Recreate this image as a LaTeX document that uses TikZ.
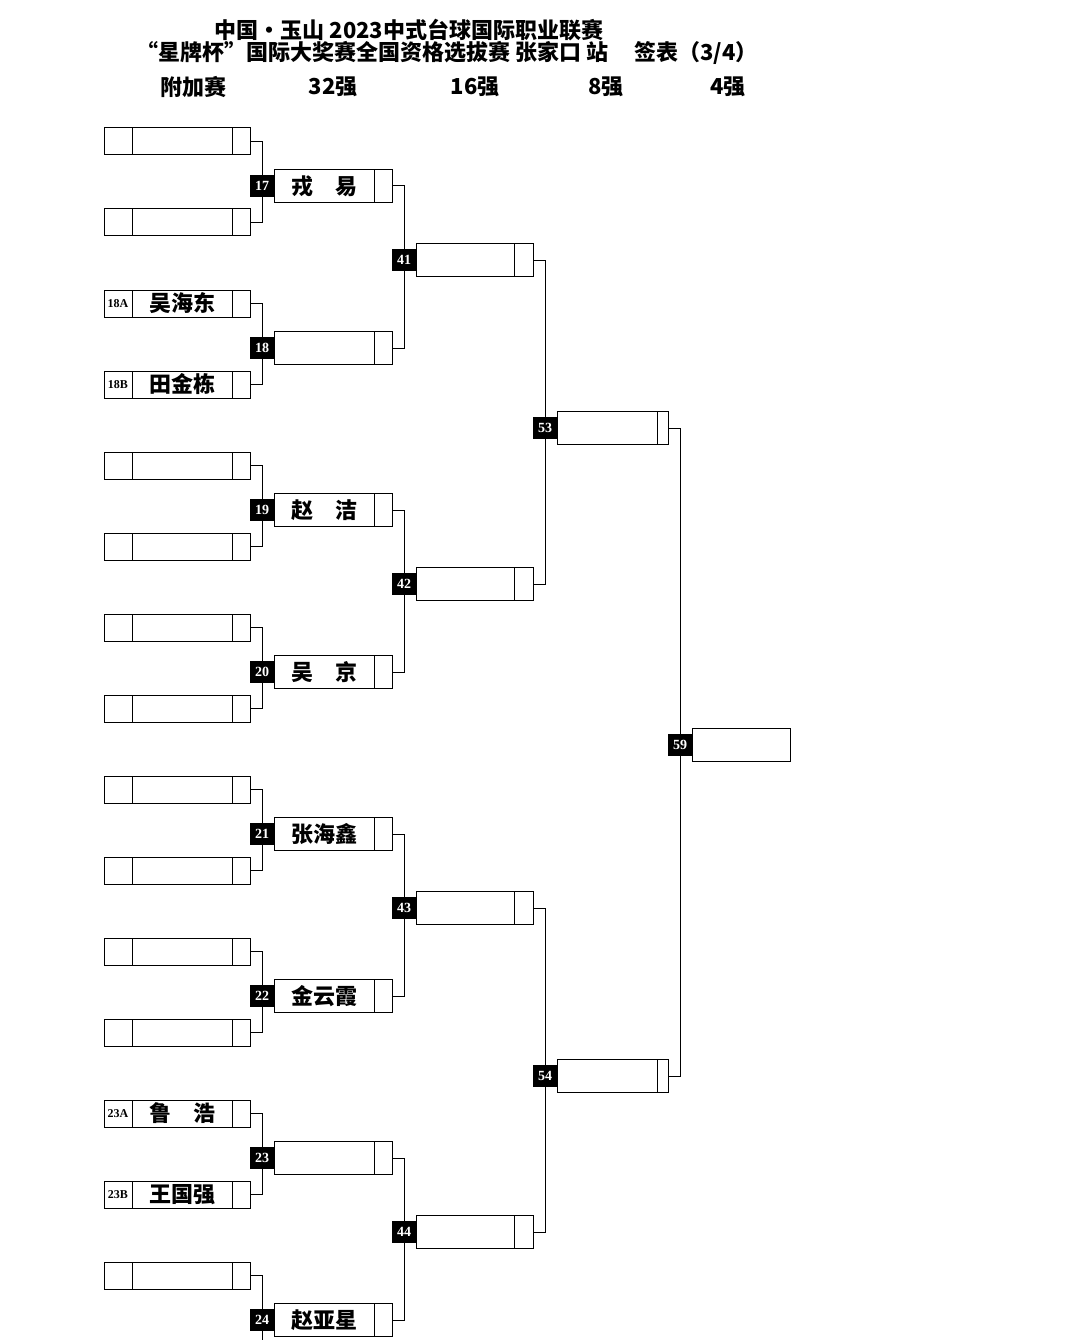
\documentclass[tikz,border=0pt]{standalone}
\usepackage{fontspec}
\setmainfont{Liberation Serif}
\newfontfamily\cjk{Noto Sans CJK SC}
\usetikzlibrary{positioning}

\begin{document}
\begin{tikzpicture}[
  x=1pt, y=-1pt, line width=1pt,
  cell/.style = {draw, inner sep=0pt, outer sep=0pt, minimum height=27pt, anchor=west},
  tagcell/.style = {cell, minimum width=28pt, font=\fontsize{12}{12}\bfseries\selectfont},
  namecell/.style = {cell, minimum width=100pt, font=\cjk\bfseries\fontsize{22}{22}\selectfont},
  scorecell/.style = {cell, minimum width=18pt},
  matchno/.style = {fill=black, text=white, inner sep=0pt, outer sep=0pt, minimum width=24pt, minimum height=22pt, font=\fontsize{14}{14}\bfseries\selectfont},
  winbox/.style = {draw, inner sep=0pt, outer sep=0pt, minimum height=33pt, anchor=west, font=\cjk\bfseries\fontsize{22}{22}\selectfont},
  title/.style = {font=\cjk\bfseries\fontsize{22}{22}\selectfont}
]
  \useasboundingbox (0,0) rectangle (1080,1340);
  \clip (0,0) rectangle (1080,1340);

  % Headings
  \node[title] (head1) at (409,30) {中国•玉山 2023中式台球国际职业联赛};
  \node[title] (head2) at (447,53) {“星牌杯”国际大奖赛全国资格选拔赛 张家口 站\hspace{1.2em}签表（3/4）};
  \node[title] (rnd0) at (193,87) {附加赛};
  \node[title] (rnd1) at (333,87) {32强};
  \node[title] (rnd2) at (475,87) {16强};
  \node[title] (rnd3) at (606,87) {8强};
  \node[title] (rnd4) at (728,87) {4强};

  % Play-off entries
  \foreach \i/\tg/\nm in {1/{}/{}, 2/{}/{}, 3/18A/吴海东, 4/18B/田金栋, 5/{}/{}, 6/{}/{}, 7/{}/{}, 8/{}/{},
                          9/{}/{}, 10/{}/{}, 11/{}/{}, 12/{}/{}, 13/23A/{鲁\hspace{1em}浩}, 14/23B/王国强, 15/{}/{}} {
    \node[tagcell] (t\i) at (104,{141.5+81*(\i-1)}) {\tg};
    \node[namecell, right=0pt of t\i] (n\i) {\nm};
    \node[scorecell, right=0pt of n\i] (s\i) {};
  }

  % Last 32
  \foreach \k/\nm in {17/{戎\hspace{1em}易}, 18/{}, 19/{赵\hspace{1em}洁}, 20/{吴\hspace{1em}京},
                      21/张海鑫, 22/金云霞, 23/{}, 24/赵亚星} {
    \node[matchno] (m\k) at (262,{186+162*(\k-17)}) {\k};
    \node[winbox, minimum width=100pt, right=0pt of m\k] (w\k) {\nm};
    \node[winbox, minimum width=18pt, right=0pt of w\k] (ws\k) {};
  }

  % Last 16
  \foreach \k in {41,...,44} {
    \node[matchno] (m\k) at (404,{260+324*(\k-41)}) {\k};
    \node[winbox, minimum width=98pt, right=0pt of m\k] (w\k) {};
    \node[winbox, minimum width=19pt, right=0pt of w\k] (ws\k) {};
  }

  % Last 8
  \foreach \k/\yy in {53/428, 54/1076} {
    \node[matchno] (m\k) at (545,\yy) {\k};
    \node[winbox, minimum width=100pt, right=0pt of m\k] (w\k) {};
    \node[winbox, minimum width=11pt, right=0pt of w\k] (ws\k) {};
  }

  % Last 4
  \node[matchno] (m59) at (680,745) {59};
  \node[winbox, minimum width=98pt, right=0pt of m59] (w59) {};
  \coordinate (cut24) at (262,1345);

  % Connections
  \foreach \a/\b/\c in {1/2/17, 3/4/18, 5/6/19, 7/8/20, 9/10/21, 11/12/22, 13/14/23} {
    \draw (s\a.east) -| (m\c.north);
    \draw (s\b.east) -| (m\c.south);
  }
  \draw (s15.east) -| (m24.north);
  \draw (m24.south) -- (cut24);

  \foreach \a/\b/\c in {17/18/41, 19/20/42, 21/22/43, 23/24/44, 41/42/53, 43/44/54, 53/54/59} {
    \draw (ws\a.east) -| (m\c.north);
    \draw (ws\b.east) -| (m\c.south);
  }
\end{tikzpicture}
\end{document}
